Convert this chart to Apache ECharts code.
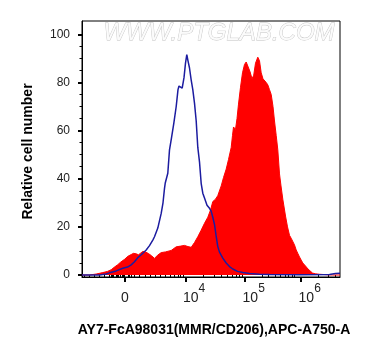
<!DOCTYPE html>
<html><head><meta charset="utf-8">
<script src="https://cdn.jsdelivr.net/npm/echarts@6/dist/echarts.min.js"></script>
<style>html,body{margin:0;padding:0;background:#fff}#c{width:370px;height:356px}</style>
</head><body><div id="c"></div>
<script>
// x = display channel on the biexponential APC-A750 axis (0..258 across the plot)
const redX = [0, 7.5, 14.2, 20.8, 25.5, 29.2, 32.5, 35.8, 38.5, 42.5, 46, 49.2, 51.5, 54.2, 56.5, 60.8, 63.5, 66.5, 69.5, 72.5, 75.5, 79.2, 83.5, 89.2, 94.2, 98.5, 102.5, 106, 109.2, 112.5, 115.8, 119, 122.5, 125.8, 128.5, 130.8, 133.5, 135.8, 139.2, 141.5, 144.2, 146.5, 149.2, 150.5, 151.5, 153.5, 155, 156.5, 158.5, 160.5, 162.5, 164.2, 166, 168, 170, 171.7, 173.5, 175.8, 177.5, 179.2, 181, 182.5, 184.2, 185.8, 187.5, 189.2, 191, 192.5, 194.2, 195.8, 197.5, 199, 200.8, 203.5, 205.5, 207.5, 209.5, 210.8, 212.5, 214.2, 216, 217.5, 219.2, 220.8, 222.5, 224.2, 226, 227.5, 230.5, 233.5, 237.5, 245.5, 250.5, 258];
const redY = [0, 0, 0.4, 1, 1.5, 2.2, 3.3, 4.3, 5.3, 6.5, 7.8, 8.5, 9, 8.8, 8.4, 9.8, 9.6, 8.9, 8, 6.9, 8.2, 9.3, 9.6, 10.2, 11.7, 12, 12.3, 11.8, 11.5, 13.5, 15.9, 18.5, 21.5, 24, 27, 30.5, 31.5, 33, 37, 40.5, 44, 48, 53, 58, 61.5, 60.5, 65, 71, 78, 84, 87.5, 88.5, 87.8, 84.5, 81.5, 83, 88, 90.5, 89, 84, 81.5, 81.8, 80, 79, 77, 75, 70, 64, 58, 52, 42, 37, 31.5, 24.5, 20, 16.5, 15, 14.5, 12.5, 10.4, 8.8, 7.5, 6.2, 5, 4.2, 3.4, 2.5, 1.8, 0.8, 0.5, 0.3, 0.1, 0, 0];
const blueX = [0, 17.5, 24.2, 27.5, 34.2, 40.8, 45.5, 49.2, 52.5, 55.8, 59.5, 64.2, 67.5, 70.8, 72.5, 75.8, 79.2, 81, 82.5, 83.2, 85.8, 87.5, 89.5, 91.8, 94.2, 96, 97, 98.5, 100.2, 102, 103.5, 104.8, 106, 107.5, 109.2, 110.8, 112.5, 114.2, 115.8, 117.5, 119.2, 120.8, 122.5, 125, 127.5, 129.2, 130.8, 132.5, 134.2, 135.8, 137.5, 140.8, 144.2, 147.5, 150.8, 155.5, 160.8, 167.5, 177.5, 187.5, 217.5, 247.5, 253.5, 258];
const blueY = [0, 0, 0.4, 0.9, 1.7, 2.8, 3.3, 4.2, 5.5, 7.2, 8.5, 10.4, 12.2, 14.5, 15.9, 19.5, 25.6, 30, 36, 38.1, 42.3, 52, 57, 63, 70, 77, 78.5, 77.8, 77.6, 82, 88, 91.6, 89, 86, 81, 77, 71.4, 64, 53, 47, 38, 34, 32, 29, 27.7, 26.5, 24, 21, 16, 11.8, 9.5, 7, 5, 3.5, 2.5, 1.5, 1, 0.6, 0.3, 0.2, 0.1, 0.2, 0.6, 0.7];

const xMajorTicks = [43, 103.5, 163.2, 219.2];
const xMajorLabels = ['0', '10^4', '10^5', '10^6'];
const xMinorTicks = [2.2, 6.8, 11.8, 16.8, 21.8, 27.5, 28.8, 30.1, 31.4, 34, 35.3, 36.6, 37.9, 40, 41.3, 42.6, 46, 47.5, 49, 52.5, 57.5, 62.8, 67.8, 72.8, 78, 83, 88.5, 92.5, 95.8, 98.5, 100.8, 121.5, 132, 139.5, 145.2, 150, 154, 157.5, 160.5, 180.1, 185.9, 192.9, 198.3, 202.8, 206.5, 209.8, 212.6, 236.1, 245.9, 252.9];
const yMajorTicks = [0, 20, 40, 60, 80, 100];
const yMinorTicks = [5, 10, 15, 25, 30, 35, 45, 50, 55, 65, 70, 75, 85, 90, 95];

const FONT = 'Liberation Sans, Arial, sans-serif';
const X_MIN = 0, X_MAX = 258, Y_MIN = -0.83, Y_MAX = 105.53;

function pairs(xs, ys) { return xs.map((x, i) => [x, ys[i]]); }
function xLabel(v) {
  let best = 0;
  xMajorTicks.forEach((t, i) => { if (Math.abs(t - v) < Math.abs(xMajorTicks[best] - v)) best = i; });
  const s = xMajorLabels[best];
  if (s.indexOf('^') < 0) return '{z|' + s + '}';
  const p = s.split('^');
  return '{b|' + p[0] + '}{s|' + p[1] + '}';
}

const chart = echarts.init(document.getElementById('c'), null, {renderer: 'canvas'});
chart.setOption({
  animation: false,
  backgroundColor: '#fff',
  grid: {left: 82, right: 30, top: 21, bottom: 79, show: true, borderColor: '#000', borderWidth: 1, containLabel: false},
  graphic: [{
    type: 'text', x: 219, y: 33, z: 0,
    style: {text: 'WWW.PTGLAB.COM', font: 'italic 24px ' + FONT, fill: '#fbfbfb', stroke: '#c2c2c2', lineWidth: 0.8, textAlign: 'center', textVerticalAlign: 'middle'}
  }],
  xAxis: [{
    type: 'value', min: X_MIN, max: X_MAX, gridIndex: 0,
    axisLine: {show: true, onZero: false, lineStyle: {color: '#000', width: 1}},
    splitLine: {show: false},
    axisTick: {show: true, customValues: xMajorTicks, length: 5, lineStyle: {color: '#000', width: 2}},
    axisLabel: {show: true, customValues: xMajorTicks, margin: 6, formatter: xLabel, color: '#222', fontFamily: FONT,
      rich: {
        z: {fontSize: 14, lineHeight: 22, verticalAlign: 'bottom', fontFamily: FONT, color: '#222'},
        b: {fontSize: 14, lineHeight: 22, verticalAlign: 'bottom', padding: [0, 0, 0, 17], fontFamily: FONT, color: '#222'},
        s: {fontSize: 12, lineHeight: 12, verticalAlign: 'top', fontFamily: FONT, color: '#222'}
      }},
    name: 'AY7-FcA98031(MMR/CD206),APC-A750-A', nameLocation: 'middle', nameGap: 46,
    nameTextStyle: {fontFamily: FONT, fontWeight: 'bold', fontSize: 14, color: '#000', padding: [0, 0, 0, 6]}
  }, {
    type: 'value', min: X_MIN, max: X_MAX, gridIndex: 0, position: 'bottom',
    axisLine: {show: false}, splitLine: {show: false}, axisLabel: {show: false},
    axisTick: {show: true, customValues: xMinorTicks, length: 3, lineStyle: {color: '#000', width: 1}}
  }],
  yAxis: [{
    type: 'value', min: Y_MIN, max: Y_MAX, gridIndex: 0,
    axisLine: {show: true, onZero: false, lineStyle: {color: '#000', width: 1}},
    splitLine: {show: false},
    axisTick: {show: true, customValues: yMajorTicks, length: 4, lineStyle: {color: '#000', width: 2}},
    axisLabel: {show: true, customValues: yMajorTicks, margin: 12, fontSize: 12, fontFamily: FONT, color: '#222'},
    name: 'Relative cell number', nameLocation: 'middle', nameGap: 47,
    nameTextStyle: {fontFamily: FONT, fontWeight: 'bold', fontSize: 14, color: '#000', padding: [0, 5, 0, 0]}
  }, {
    type: 'value', min: Y_MIN, max: Y_MAX, gridIndex: 0, position: 'left',
    axisLine: {show: false}, splitLine: {show: false}, axisLabel: {show: false},
    axisTick: {show: true, customValues: yMinorTicks, length: 2.5, lineStyle: {color: '#000', width: 1}}
  }],
  series: [{
    type: 'line', name: 'stained', xAxisIndex: 0, yAxisIndex: 0, data: pairs(redX, redY),
    showSymbol: false, symbol: 'none', smooth: false, z: 2,
    lineStyle: {color: '#ff0000', width: 1}, areaStyle: {color: '#ff0000', opacity: 1, origin: 0}
  }, {
    type: 'line', name: 'control', xAxisIndex: 0, yAxisIndex: 0, data: pairs(blueX, blueY),
    showSymbol: false, symbol: 'none', smooth: false, z: 3,
    lineStyle: {color: '#1c1ca0', width: 1.5}
  }]
});
</script></body></html>
